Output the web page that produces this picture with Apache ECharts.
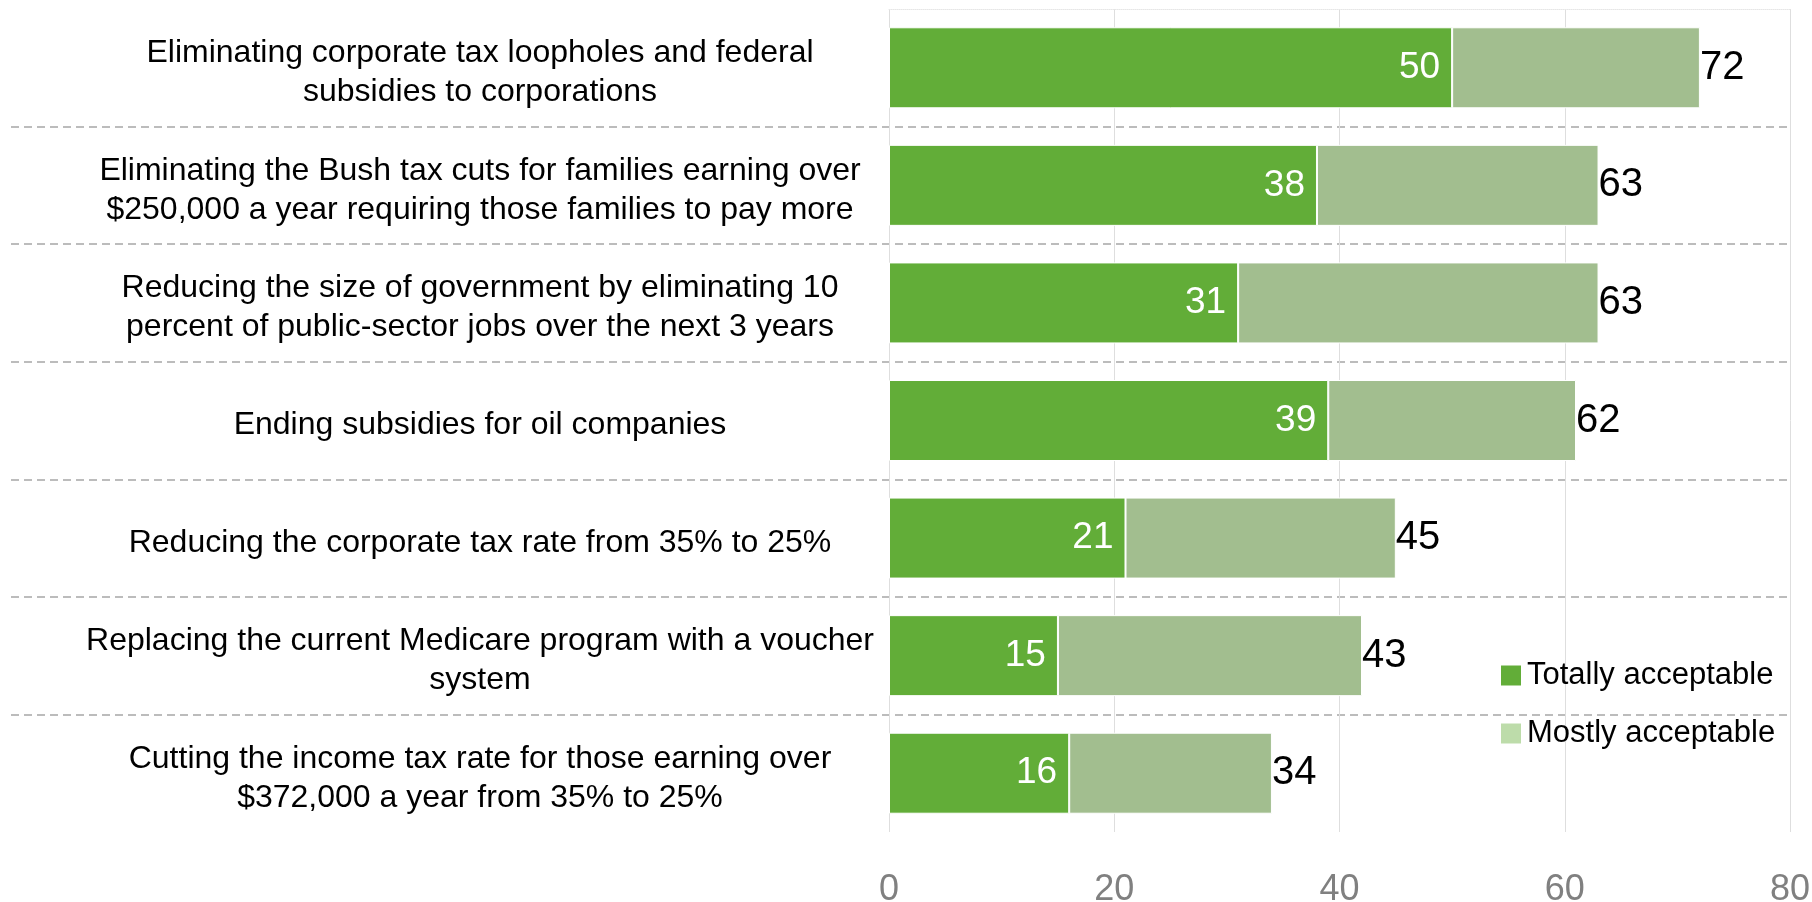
<!DOCTYPE html>
<html>
<head>
<meta charset="utf-8">
<script src="https://cdn.jsdelivr.net/npm/echarts@6/dist/echarts.min.js"></script>
<style>
html,body{margin:0;padding:0;background:#fff;}
#chart{width:1812px;height:902px;}
</style>
</head>
<body>
<div id="chart"></div>
<script>
var categories = [
  "Eliminating corporate tax loopholes and federal\nsubsidies to corporations",
  "Eliminating the Bush tax cuts for families earning over\n$250,000 a year requiring those families to pay more",
  "Reducing the size of government by eliminating 10\npercent of public-sector jobs over the next 3 years",
  "Ending subsidies for oil companies",
  "Reducing the corporate tax rate from 35% to 25%",
  "Replacing the current Medicare program with a voucher\nsystem",
  "Cutting the income tax rate for those earning over\n$372,000 a year from 35% to 25%"
];
var totallyAcceptable = [50, 38, 31, 39, 21, 15, 16];
var mostlyAcceptable = [22, 25, 32, 22, 24, 27, 18];
var totalLabels = [72, 63, 63, 62, 45, 43, 34];
var xTicks = [0, 20, 40, 60, 80];

var FONT = '"Liberation Sans", Arial, sans-serif';
var chart = echarts.init(document.getElementById('chart'), null, {renderer: 'canvas'});

var option = {
  backgroundColor: '#ffffff',
  animation: false,
  textStyle: {fontFamily: FONT},
  grid: [
    {left: 11, right: 22, top: 9, height: 823, containLabel: false, outerBoundsMode: 'none'},
    {left: 889, right: 22, top: 9, height: 823, containLabel: false, outerBoundsMode: 'none'},
    {left: 889, right: 22, top: 14, height: 823, containLabel: false, outerBoundsMode: 'none'}
  ],
  legend: {
    orient: 'vertical',
    left: 1494,
    top: 655,
    itemWidth: 22,
    itemHeight: 22,
    itemGap: 27,
    icon: 'rect',
    textStyle: {fontFamily: FONT, fontSize: 31, color: '#000'},
    data: [
      {name: 'Totally acceptable', itemStyle: {color: '#62ad38'}},
      {name: 'Mostly acceptable', itemStyle: {color: '#bddcaa'}}
    ]
  },
  xAxis: [
    {gridIndex: 0, type: 'value', min: 0, max: 1, show: false},
    {
      gridIndex: 1, type: 'value', min: xTicks[0], max: xTicks[xTicks.length - 1], interval: 20,
      axisLine: {show: false}, axisTick: {show: false},
      axisLabel: {color: '#808080', fontSize: 36, fontFamily: FONT, margin: 40},
      splitLine: {show: true, lineStyle: {color: '#dedede', width: 1}}
    },
    {
      gridIndex: 1, type: 'value', position: 'top', min: 0, max: 80,
      axisLine: {show: true, lineStyle: {color: '#e6e6e6', type: 'dotted', width: 1}},
      axisTick: {show: false}, axisLabel: {show: false}, splitLine: {show: false}
    },
    {gridIndex: 2, type: 'value', min: 0, max: 1, show: false}
  ],
  yAxis: [
    {
      gridIndex: 0, type: 'category', data: categories, inverse: true,
      axisLine: {show: false}, axisTick: {show: false}, axisLabel: {show: false},
      splitLine: {show: true, showMinLine: false, showMaxLine: false,
        lineStyle: {color: '#a6a6a6', width: 1.5, type: [8, 5]}}
    },
    {
      gridIndex: 1, type: 'category', data: categories, inverse: true,
      axisLine: {show: false}, axisTick: {show: false}, axisLabel: {show: false},
      splitLine: {show: false}
    },
    {
      gridIndex: 2, type: 'category', data: categories, inverse: true, position: 'left',
      axisLine: {show: false}, axisTick: {show: false},
      axisLabel: {
        color: '#000', fontSize: 32, fontFamily: FONT, align: 'center',
        margin: 409, lineHeight: 39
      },
      splitLine: {show: false}
    }
  ],
  series: [
    {
      name: 'Totally acceptable', type: 'bar', stack: 'total',
      xAxisIndex: 1, yAxisIndex: 1, barWidth: 81,
      data: totallyAcceptable,
      itemStyle: {color: '#62ad38', borderColor: '#ffffff', borderWidth: 1},
      label: {show: true, position: 'insideRight', distance: 12, color: '#ffffff',
        fontSize: 37, fontFamily: FONT}
    },
    {
      name: 'Mostly acceptable', type: 'bar', stack: 'total',
      xAxisIndex: 1, yAxisIndex: 1, barWidth: 81,
      data: mostlyAcceptable,
      itemStyle: {color: '#a2be8f', borderColor: '#ffffff', borderWidth: 1},
      label: {show: true, position: 'right', distance: 0, color: '#000000',
        fontSize: 40, fontFamily: FONT,
        formatter: function (p) { return String(totalLabels[p.dataIndex]); }}
    }
  ]
};
chart.setOption(option);
</script>
</body>
</html>
